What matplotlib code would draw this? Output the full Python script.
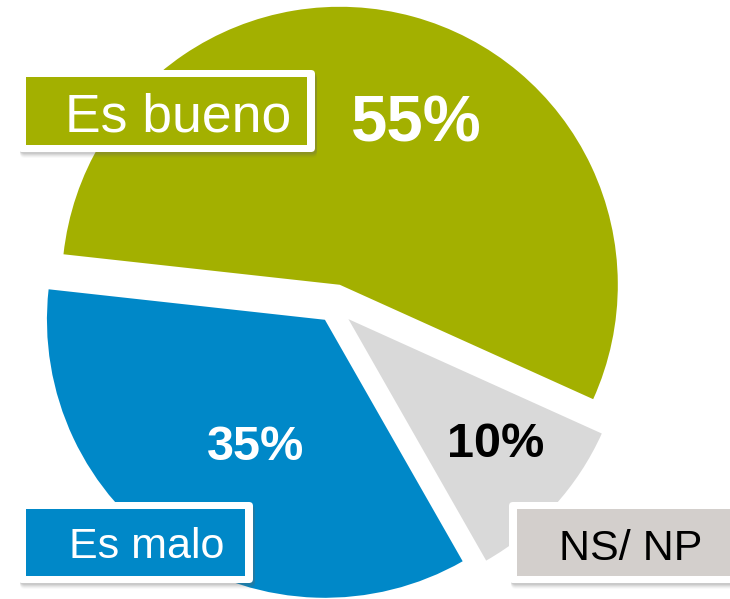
import matplotlib.pyplot as plt
from matplotlib.patches import Rectangle, FancyBboxPatch

plt.rcParams['font.family'] = ['Liberation Sans', 'DejaVu Sans']

# datos
categorias = ["Es bueno", "Es malo", "NS/ NP"]
valores = [55, 35, 10]
colores = ["#A3B000", "#0088C8", "#D9D9D9"]
colores_caja = ["#A3B000", "#0088C8", "#D3CFCC"]
texto_caja = ["white", "white", "black"]
texto_pct = ["white", "white", "black"]

W, H = 730, 599
fig = plt.figure(figsize=(W / 100, H / 100), dpi=100)
ax = fig.add_axes([0, 0, 1, 1])

def Y(y):
    # coordenadas en pixeles (origen arriba-izquierda)
    return H - y

ax.pie(valores, colors=colores, startangle=-24.3, counterclock=True,
       explode=[22, 16.5, 19.5], center=(334, Y(306)), radius=278,
       wedgeprops=dict(linewidth=0))

# porcentajes
pos_pct = [(416, 142, 47), (256, 460, 35), (496, 457, 35)]
for v, (x, y, fs), c in zip(valores, pos_pct, texto_pct):
    ax.text(x, Y(y), f"{v}%", ha="center", va="baseline", fontsize=fs,
            fontweight="bold", color=c)

# cajas de etiquetas: (x0, y0, x1, y1) borde exterior, centro texto, linea base, tamaño
cajas = [((18, 70, 315, 152), 178, 132, 38.5),
         ((18, 502, 253, 583), 147, 558, 31),
         ((509, 502, 745, 583), 631, 560, 31)]
for (x0, y0, x1, y1), tx, ty, fs, cf, ct, lab in zip(
        [c[0] for c in cajas], [c[1] for c in cajas], [c[2] for c in cajas],
        [c[3] for c in cajas], colores_caja, texto_caja, categorias):
    # sombra difusa
    for d, a in [(6, 0.04), (5, 0.06), (4, 0.08), (3, 0.10), (2, 0.12)]:
        ax.add_patch(FancyBboxPatch((x0 + 2, Y(y1 + d)), x1 - x0, y1 - y0,
                                    boxstyle="round,pad=0,rounding_size=5",
                                    facecolor="#666666", edgecolor="none",
                                    alpha=a, zorder=3))
    ax.add_patch(FancyBboxPatch((x0, Y(y1)), x1 - x0, y1 - y0,
                                boxstyle="round,pad=0,rounding_size=4",
                                facecolor="white", edgecolor="none", zorder=4))
    ax.add_patch(Rectangle((x0 + 8, Y(y1 - 7)), x1 - x0 - 16, y1 - y0 - 14,
                           facecolor=cf, edgecolor="none", zorder=5))
    ax.text(tx, Y(ty), lab, ha="center", va="baseline", fontsize=fs,
            color=ct, zorder=6)

ax.set_xlim(0, W)
ax.set_ylim(0, H)
ax.set_aspect("equal")
ax.axis("off")

fig.savefig("out.png", dpi=100)
